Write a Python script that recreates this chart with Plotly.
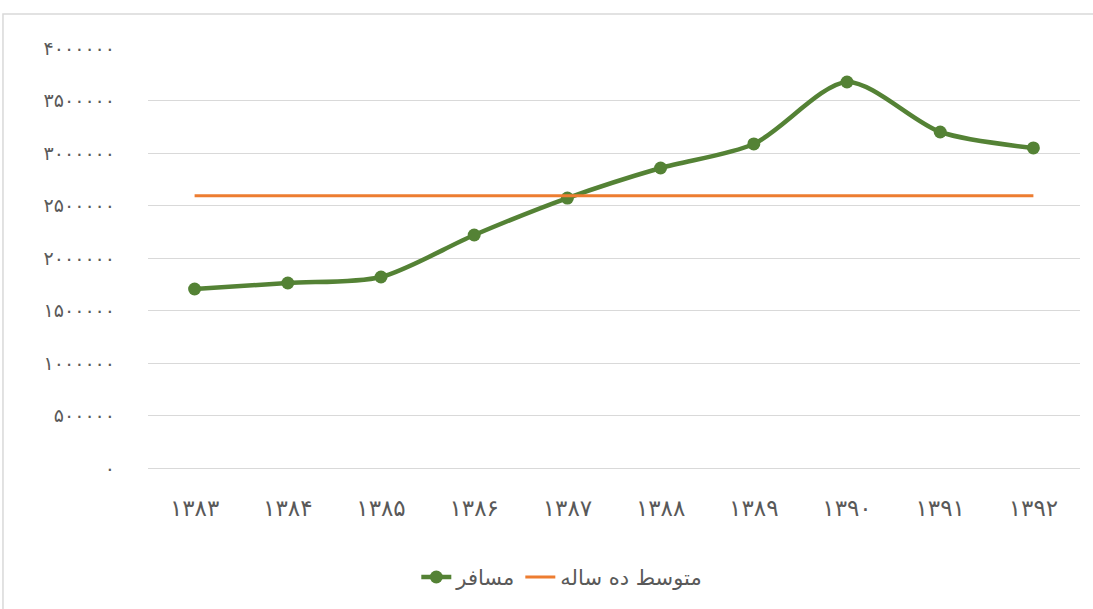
import plotly.graph_objects as go

years = ["۱۳۸۳", "۱۳۸۴", "۱۳۸۵", "۱۳۸۶", "۱۳۸۷", "۱۳۸۸", "۱۳۸۹", "۱۳۹۰", "۱۳۹۱", "۱۳۹۲"]
passengers = [1705000, 1762000, 1819000, 2219000, 2571000, 2857000, 3086000, 3676000, 3200000, 3048000]
ten_year_avg = [2594000] * 10

tick_vals = [0, 500000, 1000000, 1500000, 2000000, 2500000, 3000000, 3500000, 4000000]
tick_text = ["۰", "۵۰۰۰۰۰", "۱۰۰۰۰۰۰", "۱۵۰۰۰۰۰", "۲۰۰۰۰۰۰", "۲۵۰۰۰۰۰", "۳۰۰۰۰۰۰", "۳۵۰۰۰۰۰", "۴۰۰۰۰۰۰"]

series_names = ["مسافر", "متوسط ده ساله"]

fig = go.Figure()
fig.add_trace(go.Scatter(
    x=years, y=passengers, name=series_names[0], mode="lines+markers",
    line=dict(color="#548235", width=4.5, shape="spline", smoothing=0.8),
    marker=dict(color="#548235", size=13),
))
fig.add_trace(go.Scatter(
    x=years, y=ten_year_avg, name=series_names[1], mode="lines",
    line=dict(color="#ED7D31", width=3),
))

font_family = "DejaVu Sans, Noto Sans, sans-serif"
fig.update_layout(
    width=1093, height=609,
    margin=dict(l=148, r=13, t=48, b=141),
    paper_bgcolor="white", plot_bgcolor="white",
    font=dict(family=font_family, size=18, color="#595959"),
    showlegend=True,
    legend=dict(orientation="h", x=0.444, xanchor="center",
                yref="container", y=0.052, yanchor="middle",
                font=dict(size=21, color="#595959"), traceorder="normal"),
    xaxis=dict(type="category", range=[-0.5, 9.5], automargin=False,
               showgrid=False, showline=True, linecolor="#D9D9D9",
               ticks="", tickfont=dict(size=23, color="#595959"), ticklabelstandoff=19),
    yaxis=dict(range=[0, 4000000], tickvals=tick_vals, ticktext=tick_text, automargin=False,
               showgrid=True, gridcolor="#D9D9D9", gridwidth=1, zeroline=False,
               showline=False, ticks="", tickfont=dict(size=19, color="#595959"),
               ticklabelstandoff=32),
    shapes=[dict(type="rect", xref="paper", yref="paper", x0=-0.1556, x1=1.03,
                 y0=-0.5, y1=1.081, line=dict(color="#D9D9D9", width=1.5), layer="below")],
)

fig.write_html("out.html", config={"displayModeBar": False},
               post_script="document.body.style.margin='0';")
